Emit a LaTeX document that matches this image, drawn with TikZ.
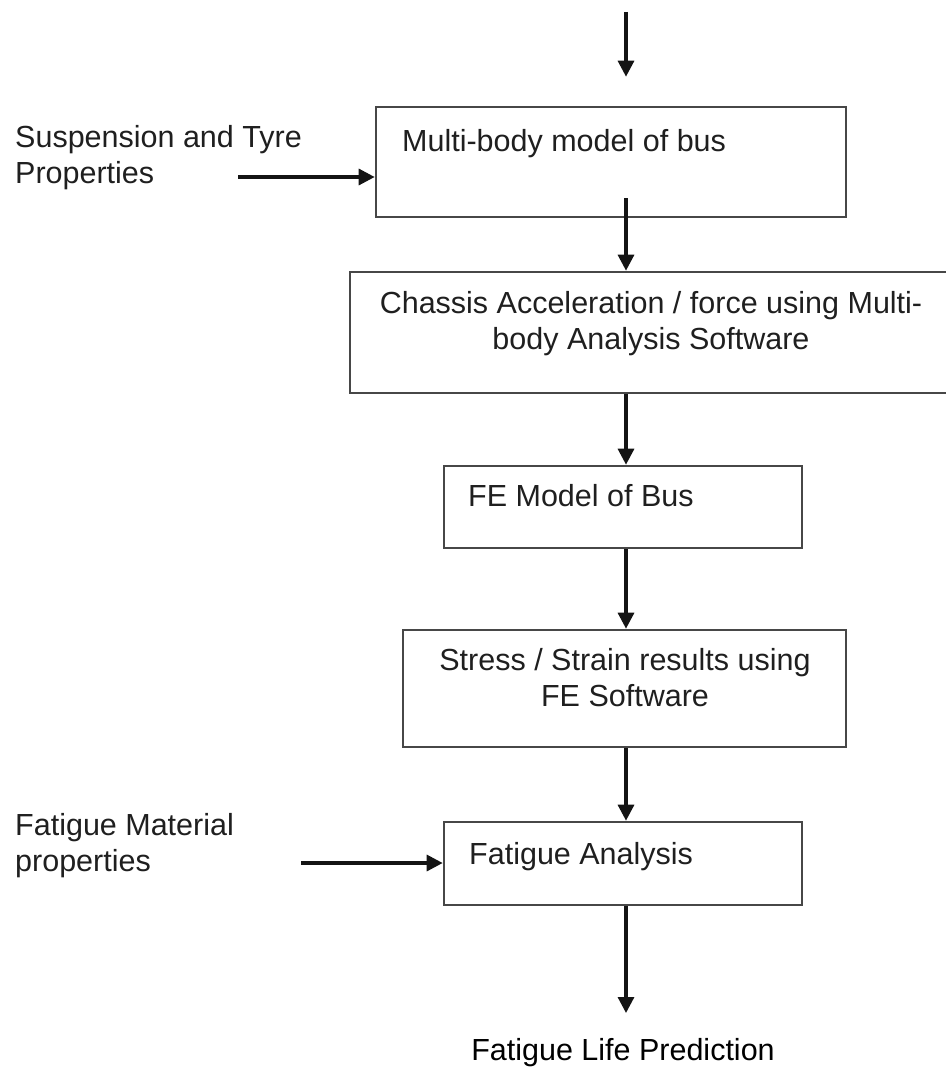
\documentclass[tikz,border=0pt]{standalone}
\usepackage{fontspec}
\setmainfont{Liberation Sans}
\usetikzlibrary{arrows.meta}
\begin{document}
\begin{tikzpicture}[x=1pt,y=-1pt,
  box/.style={draw=black!72, line width=2.6pt, rectangle, inner sep=0pt},
  txt/.style={font=\fontsize{30.5}{36}\selectfont, inner sep=0pt, text=black!88},
  arr/.style={draw=black!92, line width=3.2pt, -{Triangle[length=16pt,width=16pt]}}]
\useasboundingbox (0,0) rectangle (945,1070);
% boxes
\node[box, minimum width=470pt, minimum height=110pt] (b1) at (611,162) {};
\node[box, minimum width=610pt, minimum height=121pt] (b2) at (655,332.5) {};
\node[box, minimum width=358pt, minimum height=82pt] (b3) at (623,507) {};
\node[box, minimum width=443pt, minimum height=117pt] (b4) at (624.5,688.5) {};
\node[box, minimum width=358pt, minimum height=83pt] (b5) at (623,863.5) {};
% box texts (multi-line nodes: base = last line)
\node[txt, anchor=base west] (t1) at (402,151) {Multi-body model of bus};
\node[txt, align=center, anchor=base] (t2) at (651,349) {Chassis Acceleration / force using Multi-\\body Analysis Software};
\node[txt, anchor=base west] (t3) at (468,506) {FE Model of Bus};
\node[txt, align=center, anchor=base] (t4) at (625,706) {Stress / Strain results using\\FE Software};
\node[txt, anchor=base west] (t5) at (469,864) {Fatigue Analysis};
% side texts
\node[txt, align=left, anchor=base west] (s1t) at (15,183) {Suspension and Tyre\\Properties};
\node[txt, align=left, anchor=base west] (s2t) at (15,871) {Fatigue Material\\properties};
\node[txt, anchor=base, text=black] (out) at (623,1060) {Fatigue Life Prediction};
% connector ends
\coordinate (ax) at (626,12);
\coordinate (s1) at (238,177);
\coordinate (s2) at (301,863);
\coordinate (oe) at (626,1013);
% arrows
\draw[arr] (ax) -- ([yshift=29pt]ax |- b1.north);
\draw[arr] (s1) -- (s1 -| b1.west);
\draw[arr] ([yshift=20pt]ax |- b1.south) -- (ax |- b2.north);
\draw[arr] (ax |- b2.south) -- (ax |- b3.north);
\draw[arr] (ax |- b3.south) -- (ax |- b4.north);
\draw[arr] (ax |- b4.south) -- (ax |- b5.north);
\draw[arr] (s2) -- (s2 -| b5.west);
\draw[arr] (ax |- b5.south) -- (oe);
\end{tikzpicture}
\end{document}
